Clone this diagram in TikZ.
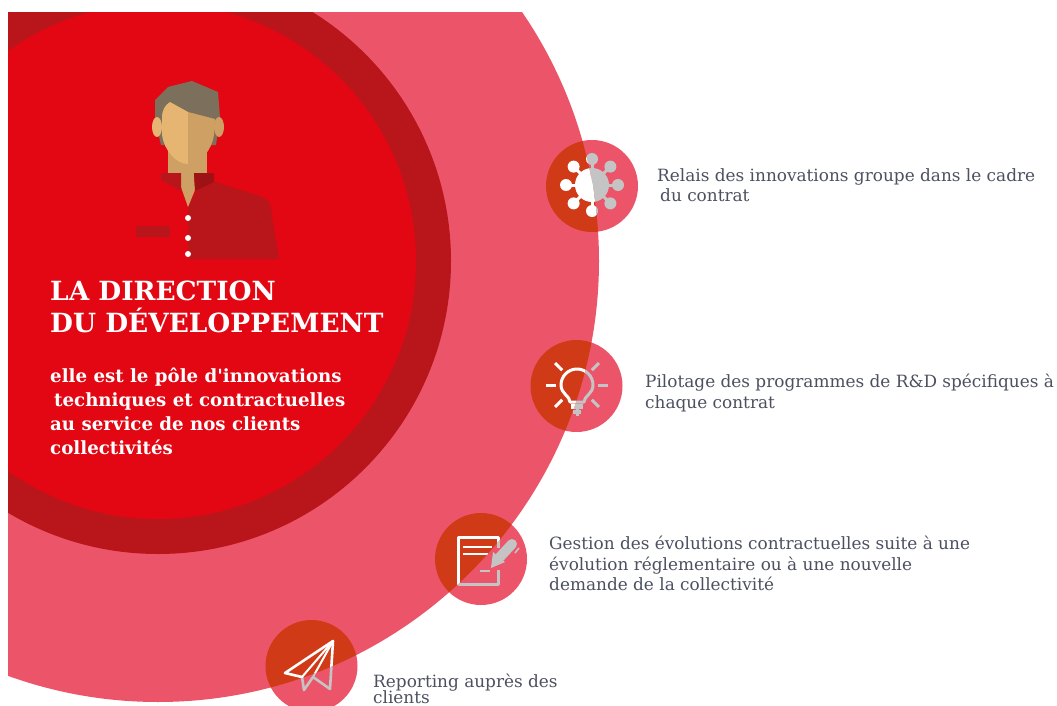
\documentclass[tikz,border=0pt]{standalone}
\usepackage{fontspec}
\setmainfont[Ligatures=TeXOff]{DejaVu Serif}
\definecolor{pinkc}{HTML}{EC5569}
\definecolor{ringc}{HTML}{B9161C}
\definecolor{redc}{HTML}{E30613}
\definecolor{orangec}{HTML}{D13A16}
\definecolor{greyic}{HTML}{C4C4C4}
\definecolor{hairc}{HTML}{7C6F5B}
\definecolor{skinl}{HTML}{E6B572}
\definecolor{skind}{HTML}{CFA063}
\definecolor{collard}{HTML}{9E1216}
\definecolor{txtc}{HTML}{4C5160}
\newcommand{\iconVirus}[1]{%
  \fill[#1] (592,185) circle[radius=17pt];
  \foreach \a in {0,45,...,315}{%
    \draw[#1,line width=3pt] (592,185) -- ++(\a:26pt);
    \fill[#1] (592,185) ++(\a:26pt) circle[radius=6pt];
  }%
}
\newcommand{\iconBulb}[1]{%
  \foreach \a in {0,45,90,135,180,225,315}{%
    \draw[#1,line width=3pt] (577,385) ++(-\a:21pt) -- ++(-\a:10pt);
  }
  \draw[#1,line width=3pt,line join=round] (570,402) .. controls (570,396) and (561,394) .. (561,385) arc[start angle=180,end angle=0,radius=16pt] .. controls (593,394) and (584,396) .. (584,402) -- cycle;
  \fill[#1] (571,404) rectangle (583,409);
  \fill[#1] (573,410) rectangle (581,414);
}
\newcommand{\iconDoc}[1]{%
  \draw[#1,line width=3pt,line join=round] (498,548) -- (498,537) -- (458,537) -- (458,584) -- (498,584) -- (498,570);
  \draw[#1,line width=2.6pt] (463,547) -- (492,547);
  \draw[#1,line width=2.6pt] (463,554) -- (488,554);
  \draw[#1,line width=2pt] (480,571) -- (490,571);
  \draw[#1,line width=10pt,line cap=round] (500,557) -- (512,544);
  \fill[#1] (491,568) -- (493,552) -- (505,562) -- cycle;
  \draw[#1,line width=1.6pt] (515,553) -- (519,548);
}
\newcommand{\iconPlane}[1]{%
  \draw[#1,line width=2.6pt,line join=round] (333,641) -- (285,673) -- (302,677) -- (304,690) -- (313,677) -- (330,689) -- cycle;
  \draw[#1,line width=2pt] (333,641) -- (302,677);
  \draw[#1,line width=2pt] (333,641) -- (313,677);
}
\tikzset{
  head/.style={anchor=north west,inner sep=0pt,text=white,align=left,font=\fontsize{26.4}{32}\selectfont\bfseries},
  sub/.style={anchor=north west,inner sep=0pt,text=white,align=left,font=\fontsize{18.2}{24}\selectfont\bfseries},
  item/.style={anchor=north west,inner sep=0pt,text=txtc,align=left,font=\fontsize{16.9}{20.5}\selectfont},
}
\begin{document}
\begin{tikzpicture}[x=1pt,y=-1pt]
\path[use as bounding box,fill=white] (0,0) rectangle (1057,706);
\clip (0,0) rectangle (1057,706);
\begin{scope}
  \clip (8,13) rectangle (1057,706);
  \fill[pinkc] (158,261) circle[radius=441pt];
  \fill[ringc] (158,261) circle[radius=293pt];
  \fill[redc] (158,261) circle[radius=258pt];
\end{scope}
% person
\fill[hairc] (155,100) -- (168,87) -- (192,81) -- (218,92) -- (220,117) -- (216,145) -- (161,145) -- (155,120) -- cycle;
\fill[skinl] (157,127) ellipse[x radius=5pt,y radius=10pt];
\fill[skind] (219,127) ellipse[x radius=5pt,y radius=10pt];
\fill[skind] (168,150) rectangle (207,174);
\fill[skinl] (188,112) -- (170,102) .. controls (165,105) and (162,110) .. (162,118) -- (162,135) .. controls (164,150) and (176,164) .. (188,164) -- cycle;
\fill[skind] (188,112) -- (215,119) -- (214,135) .. controls (212,150) and (200,164) .. (188,164) -- cycle;
\fill[ringc] (188,207) -- (197,190) -- (215,182) -- (263,197) -- (270,203) -- (279,259) -- (188,259) -- cycle;
\fill[skind] (181,173) -- (194,173) -- (195,190) -- (188,207) -- (181,187) -- cycle;
\fill[ringc] (161,173) -- (181,173) -- (181,191) -- (161,180) -- cycle;
\fill[collard] (194,173) -- (214,173) -- (214,182) -- (195,191) -- cycle;
\fill[ringc] (136,226) rectangle (170,237);
\foreach \yy in {218,238,254} \fill[white] (188,\yy) circle[radius=3pt];
% title text
\node[head] (title) at (50,281) {LA DIRECTION\\DU DÉVELOPPEMENT};
\node[sub] (subtitle) at (50,368) {elle est le pôle d'innovations\\\hspace*{4pt}techniques et contractuelles\\au service de nos clients\\collectivités};
% small circles
\foreach \nm/\cx/\cy in {cA/592/186,cB/576.5/386,cC/481/559,cD/311.5/666}
  \fill[pinkc] (\cx,\cy) circle[radius=46pt] coordinate (\nm);
\iconVirus{greyic}\iconBulb{greyic}\iconDoc{greyic}\iconPlane{greyic}
\begin{scope}
  \clip (158,261) circle[radius=441pt];
  \foreach \cx/\cy in {592/186,576.5/386,481/559,311.5/666}
    \fill[orangec] (\cx,\cy) circle[radius=46pt];
  \iconVirus{white}\iconBulb{white}\iconDoc{white}\iconPlane{white}
\end{scope}
% right texts
\node[item] (t1) at (657,168) {Relais des innovations groupe dans le cadre\\\hspace*{3pt}du contrat};
\node[item] (t2) at (645,374) {Pilotage des programmes de R\&D spécifiques à\\chaque contrat};
\node[item] (t3) at (549,536) {Gestion des évolutions contractuelles suite à une\\évolution réglementaire ou à une nouvelle\\demande de la collectivité};
\node[item] (t4) at (373,674) {Reporting auprès des\\[-5pt]clients};
\end{tikzpicture}
\end{document}
